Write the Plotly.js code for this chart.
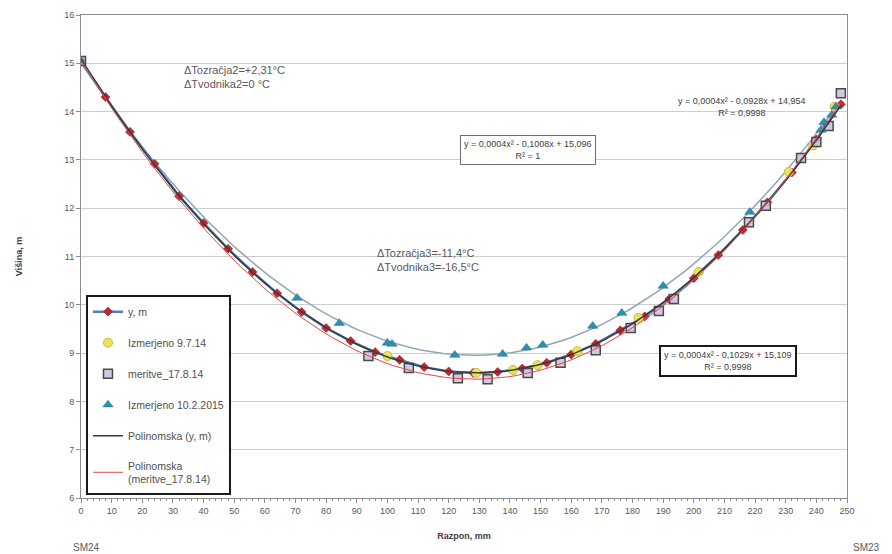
<!DOCTYPE html>
<html>
<head>
<meta charset="utf-8">
<script src="https://cdn.plot.ly/plotly-3.0.1.min.js"></script>
<style>html,body{margin:0;padding:0;background:#fff;}#chart{width:892px;height:554px;}</style>
</head>
<body>
<div id="chart"></div>
<script>
// ---- data ----
const ymX = [0,8,16,24,32,40,48,56,64,72,80,88,96,104,112,120,128,136,144,152,160,168,176,184,192,200,208,216,224,232,240,248];
const ymY = [15.05,14.30,13.58,12.92,12.25,11.69,11.16,10.68,10.24,9.85,9.52,9.25,9.02,8.86,8.71,8.62,8.59,8.61,8.68,8.80,8.97,9.19,9.47,9.76,10.12,10.55,11.03,11.55,12.12,12.74,13.42,14.15];

const iz97X = [100,129,141,149,162,182,201.6,231,239,246];
const iz97Y = [8.94,8.59,8.65,8.75,9.04,9.73,10.68,12.75,13.30,14.10];

const merX = [0,93.8,107,123,132.7,145.8,156.5,168,179.4,188.6,193.5,218,223.5,235,240,244,248];
const merY = [15.05,8.94,8.69,8.48,8.46,8.59,8.80,9.06,9.52,9.87,10.12,11.71,12.05,13.04,13.37,13.70,14.38];

const iz15X = [0,70.5,84.3,100,101.5,122,137.6,145.4,150.7,167,176.5,190,218.3,241.5,242.5,245,246.4];
const iz15Y = [15.05,10.14,9.62,9.21,9.19,8.96,8.98,9.11,9.17,9.56,9.83,10.39,11.92,13.62,13.78,13.93,14.10];

const xTicks = [0,10,20,30,40,50,60,70,80,90,100,110,120,130,140,150,160,170,180,190,200,210,220,230,240,250];
const yTicks = [6,7,8,9,10,11,12,13,14,15,16];

// ---- quadratic least-squares trendline (like Excel "Polinomska") ----
function polyfit2(xs, ys){
  let s=[0,0,0,0,0], t=[0,0,0];
  for(let i=0;i<xs.length;i++){
    const x=xs[i], y=ys[i];
    let p=1;
    for(let k=0;k<5;k++){ s[k]+=p; p*=x; }
    t[0]+=y; t[1]+=y*x; t[2]+=y*x*x;
  }
  const A=[[s[0],s[1],s[2],t[0]],[s[1],s[2],s[3],t[1]],[s[2],s[3],s[4],t[2]]];
  for(let c=0;c<3;c++){
    let piv=c; for(let r=c+1;r<3;r++) if(Math.abs(A[r][c])>Math.abs(A[piv][c])) piv=r;
    [A[c],A[piv]]=[A[piv],A[c]];
    for(let r=0;r<3;r++){ if(r===c) continue; const f=A[r][c]/A[c][c]; for(let k=c;k<4;k++) A[r][k]-=f*A[c][k]; }
  }
  return [A[0][3]/A[0][0], A[1][3]/A[1][1], A[2][3]/A[2][2]];
}
function trend(xs, ys){
  const c = polyfit2(xs, ys);
  const x0 = Math.min(...xs), x1 = Math.max(...xs);
  const gx=[], gy=[];
  for(let i=0;i<=100;i++){ const x=x0+(x1-x0)*i/100; gx.push(x); gy.push(c[0]+c[1]*x+c[2]*x*x); }
  return {x:gx, y:gy};
}
const tYm = trend(ymX, ymY);
const tMer = trend(merX, merY);
const t15 = trend(iz15X, iz15Y);

const traces = [
  {x:t15.x, y:t15.y, mode:'lines', line:{color:'#8fa6b8', width:1.5}, showlegend:false, hoverinfo:'skip'},
  {x:ymX, y:ymY, mode:'lines+markers', name:'y, m', legendgroup:'a',
   line:{color:'#4f81bd', width:2.5}, marker:{symbol:'diamond', size:7, color:'#c0282d', line:{color:'#a01020', width:0.5}}},
  {x:iz97X, y:iz97Y, mode:'markers', name:'Izmerjeno 9.7.14', legendgroup:'b',
   marker:{symbol:'circle', size:9, color:'#e3e85a', line:{color:'#d8b030', width:1}}},
  {x:merX, y:merY, mode:'markers', name:'meritve_17.8.14', legendgroup:'c',
   marker:{symbol:'square', size:9, color:'rgba(200,190,225,0.85)', line:{color:'#4a4a4a', width:1.5}}},
  {x:iz15X, y:iz15Y, mode:'markers', name:'Izmerjeno 10.2.2015', legendgroup:'d',
   marker:{symbol:'triangle-up', size:9, color:'#2f8fb3', line:{color:'#1f6f93', width:0.5}}},
  {x:tYm.x, y:tYm.y, mode:'lines', name:'Polinomska (y, m)', legendgroup:'e', line:{color:'#3a3a3a', width:1.5}},
  {x:tMer.x, y:tMer.y, mode:'lines', name:'Polinomska<br>(meritve_17.8.14)', legendgroup:'f', line:{color:'#e04848', width:1}}
];

const F = 'Liberation Sans, Arial, sans-serif';
const layout = {
  width:892, height:554,
  margin:{l:81, r:45, t:15, b:56},
  paper_bgcolor:'#fff', plot_bgcolor:'#fff',
  font:{family:F, size:9, color:'#595959'},
  xaxis:{range:[0,250], tickvals:xTicks, ticks:'outside', ticklen:4, tickcolor:'#8c8c8c',
    showgrid:false, zeroline:false, showline:true, linecolor:'#8c8c8c', linewidth:1, mirror:true,
    minor:{dtick:2, ticks:'outside', ticklen:2, tickcolor:'#8c8c8c'},
    tickfont:{size:9, color:'#595959'},
    title:{text:'<b>Razpon, mm</b>', font:{size:9, color:'#404040'}, standoff:17}},
  yaxis:{range:[6,16], tickvals:yTicks, ticks:'outside', ticklen:4, tickcolor:'#8c8c8c',
    showgrid:true, gridcolor:'#cfcfcf', gridwidth:1, zeroline:false, showline:true, linecolor:'#8c8c8c', linewidth:1, mirror:true,
    tickfont:{size:9, color:'#595959'},
    title:{text:'<b>Višina, m</b>', font:{size:9, color:'#404040'}, standoff:40}},
  legend:{x:0.0065, y:0.42, xanchor:'left', yanchor:'top', bgcolor:'#fff', bordercolor:'#1a1a1a', borderwidth:2,
    font:{size:10.5, color:'#505050'}, tracegroupgap:12, traceorder:'grouped'},
  showlegend:true,
  annotations:[
    {x:33, y:14.72, xref:'x', yref:'y', xanchor:'left', yanchor:'middle', align:'left', showarrow:false,
     text:'ΔTozračja2=+2,31°C<br>ΔTvodnika2=0 °C', font:{size:11, color:'#595959'}},
    {x:96.1, y:10.93, xref:'x', yref:'y', xanchor:'left', yanchor:'middle', align:'left', showarrow:false,
     text:'ΔTozračja3=-11,4°C<br>ΔTvodnika3=-16,5°C', font:{size:11, color:'#595959'}},
    {x:145.75, y:13.205, xref:'x', yref:'y', xanchor:'center', yanchor:'middle', align:'center', showarrow:false,
     text:'y = 0,0004x² - 0,1008x + 15,096<br>R² = 1', font:{size:9, color:'#404040'},
     bgcolor:'#fff', bordercolor:'#6e6e6e', borderwidth:1, borderpad:3},
    {x:211.1, y:8.836, xref:'x', yref:'y', xanchor:'center', yanchor:'middle', align:'center', showarrow:false,
     text:'y = 0,0004x² - 0,1029x + 15,109<br>R² = 0,9998', font:{size:9, color:'#404040'},
     bgcolor:'#fff', bordercolor:'#1a1a1a', borderwidth:2, borderpad:3},
    {x:215.7, y:14.085, xref:'x', yref:'y', xanchor:'center', yanchor:'middle', align:'center', showarrow:false,
     text:'y = 0,0004x² - 0,0928x + 14,954<br>R² = 0,9998', font:{size:9, color:'#404040'}},
    {x:86, y:547, xref:'paper', yref:'paper', showarrow:false, text:'SM24', font:{size:10, color:'#595959'}},
    {x:866, y:547, xref:'paper', yref:'paper', showarrow:false, text:'SM23', font:{size:10, color:'#595959'}}
  ]
};
// convert pixel positions of the SM labels to paper coordinates
layout.annotations.forEach(a=>{
  if(a.xref==='paper' && a.x>1){ a.x=(a.x-81)/766; a.y=1-(a.y-15)/483; a.xanchor='center'; a.yanchor='middle'; }
});
Plotly.newPlot('chart', traces, layout, {displayModeBar:false, staticPlot:true});
</script>
</body>
</html>
